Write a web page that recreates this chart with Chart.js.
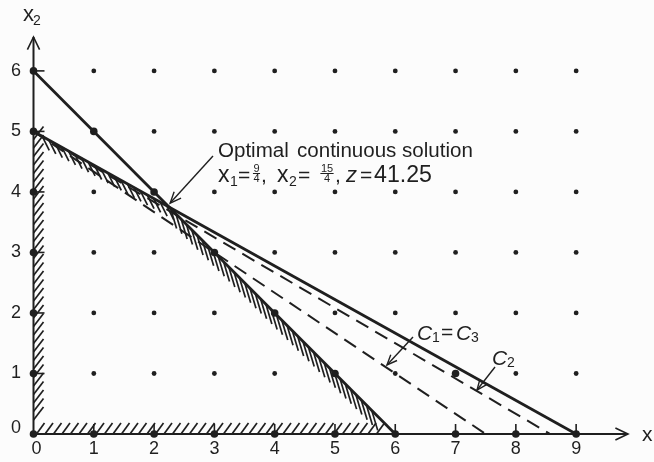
<!DOCTYPE html>
<html><head><meta charset="utf-8">
<script src="https://cdn.jsdelivr.net/npm/chart.js@4/dist/chart.umd.min.js"></script>
<style>html,body{margin:0;padding:0;background:#fcfcfc;overflow:hidden}#wrap{width:654px;height:462px}</style>
</head><body><div id="wrap"><canvas id="c" width="654" height="462"></canvas></div>
<script>
// ---- data ----
const xTicks = [0,1,2,3,4,5,6,7,8,9];
const yTicks = [0,1,2,3,4,5,6];
const constraintA = [{x:0,y:6},{x:6,y:0}];      // x1 + x2 = 6
const constraintB = [{x:0,y:5},{x:9,y:0}];      // 5x1 + 9x2 = 45
const cutC1C3 = [{x:0,y:5},{x:7.5,y:0}];        // 2x1 + 3x2 = 15
const cutC2 = [{x:0,y:5},{x:8.57,y:0}];
const feasibleVertices = [{x:0,y:0},{x:0,y:5},{x:2.25,y:3.75},{x:6,y:0}];
const optimum = {x:2.25,y:3.75};
const linePoints = [{x:1,y:5},{x:2,y:4},{x:3,y:3},{x:4,y:2},{x:5,y:1},{x:7,y:1}];
const axisMax = {x:9.86,y:6.56};

const INK = '#1f1f1f';
const FONT = '"Liberation Sans", Arial, Helvetica, sans-serif';

const lattice = [];
const bold = linePoints.slice();
xTicks.forEach(x => yTicks.forEach(y => {
  if (x === 0 || y === 0) bold.push({x, y}); else lattice.push({x, y});
}));

function arrowHead(ctx, tx, ty, fx, fy, len, ang){
  const a = Math.atan2(ty - fy, tx - fx);
  ctx.beginPath();
  ctx.moveTo(tx - len*Math.cos(a - ang), ty - len*Math.sin(a - ang));
  ctx.lineTo(tx, ty);
  ctx.lineTo(tx - len*Math.cos(a + ang), ty - len*Math.sin(a + ang));
  ctx.stroke();
}
function txt(ctx, t, x, base, size, italic){
  ctx.font = (italic ? 'italic ' : '') + size + 'px ' + FONT;
  ctx.fillText(t, x, base);
}
function frac(ctx, n, d, cx, base){
  ctx.font = '11px ' + FONT;
  ctx.textAlign = 'center';
  ctx.fillText(n, cx, base - 10);
  ctx.fillText(d, cx, base);
  const w = Math.max(ctx.measureText(n).width, ctx.measureText(d).width);
  ctx.beginPath(); ctx.lineWidth = 1; ctx.moveTo(cx - w/2 - 0.5, base - 8.5); ctx.lineTo(cx + w/2 + 0.5, base - 8.5); ctx.stroke();
  ctx.textAlign = 'left';
}

const decor = {
  id: 'decor',
  beforeDatasetsDraw(chart){
    const {ctx, scales:{x:sx, y:sy}} = chart;
    const X = v => sx.getPixelForValue(v), Y = v => sy.getPixelForValue(v);
    ctx.save();
    ctx.strokeStyle = INK; ctx.fillStyle = INK;
    // hatching inside the feasible region
    ctx.lineWidth = 1.7;
    const hatch = (a, b, dx, dy, step, s0, s1) => {
      const x1 = X(a.x), y1 = Y(a.y), x2 = X(b.x), y2 = Y(b.y);
      const L = Math.hypot(x2 - x1, y2 - y1);
      for (let s = s0; s <= L - s1; s += step){
        const t = s / L, px = x1 + (x2 - x1)*t, py = y1 + (y2 - y1)*t;
        ctx.beginPath(); ctx.moveTo(px, py); ctx.lineTo(px + dx, py + dy); ctx.stroke();
      }
    };
    const v = feasibleVertices;
    hatch(v[0], v[1], 10, -13, 8.5, 14, 8);
    hatch(v[0], v[3], 8, -11, 8.5, 3, 12);
    hatch(v[1], v[2], 7, 14, 7.5, 10, 0);
    hatch(v[2], v[3], 6, 20, 7.5, 2, 26);
    // axes
    ctx.lineWidth = 2;
    const x0 = X(0), y0 = Y(0), xt = X(axisMax.x), yt = Y(axisMax.y);
    ctx.beginPath(); ctx.moveTo(x0, y0); ctx.lineTo(x0, yt); ctx.stroke();
    ctx.beginPath(); ctx.moveTo(x0, y0); ctx.lineTo(xt, y0); ctx.stroke();
    ctx.lineWidth = 1.6;
    arrowHead(ctx, x0, yt, x0, y0, 14, 0.45);
    arrowHead(ctx, xt, y0, x0, y0, 14, 0.45);
    // tick marks
    ctx.lineWidth = 1.6;
    yTicks.forEach(t => { if (t > 0){ ctx.beginPath(); ctx.moveTo(x0, Y(t)); ctx.lineTo(x0 + 11, Y(t)); ctx.stroke(); }});
    xTicks.forEach(t => { if (t > 0){ ctx.beginPath(); ctx.moveTo(X(t), y0); ctx.lineTo(X(t), y0 - 10); ctx.stroke(); }});
    // tick labels
    ctx.font = '18px ' + FONT; ctx.textAlign = 'center'; ctx.textBaseline = 'middle';
    xTicks.forEach(t => ctx.fillText(String(t), X(t) + (t === 0 ? 3 : 0), y0 + 15));
    yTicks.forEach(t => ctx.fillText(String(t), 16, Y(t) - (t === 0 ? 6 : 0)));
    ctx.restore();
  },
  afterDatasetsDraw(chart){
    const {ctx, scales:{x:sx, y:sy}} = chart;
    const X = v => sx.getPixelForValue(v), Y = v => sy.getPixelForValue(v);
    ctx.save();
    ctx.strokeStyle = INK; ctx.fillStyle = INK; ctx.textBaseline = 'alphabetic'; ctx.textAlign = 'left';
    // axis titles
    txt(ctx, 'x', 23, 21, 22, false); txt(ctx, '2', 33, 25, 14, false);
    txt(ctx, 'x', 642, 441, 21, false); txt(ctx, '1', 653, 445, 14, false);
    // optimal solution annotation
    ctx.font = '20px ' + FONT;
    const w1 = ctx.measureText('continuous solution').width;
    const s1 = 20 * 176 / w1;
    txt(ctx, 'Optimal', 218, 157, s1, false);
    txt(ctx, 'continuous solution', 297, 157, s1, false);
    txt(ctx, 'x', 218, 182, 23, false); txt(ctx, '1', 230, 186, 14, false);
    txt(ctx, '=', 238, 182, 21, false);
    frac(ctx, '9', '4', 256.5, 182);
    txt(ctx, ',', 261, 182, 21, false);
    txt(ctx, 'x', 277, 182, 23, false); txt(ctx, '2', 289, 186, 14, false);
    txt(ctx, '=', 298, 182, 21, false);
    frac(ctx, '15', '4', 327, 182);
    txt(ctx, ',', 335, 182, 21, false);
    txt(ctx, 'z', 346, 182, 22, true);
    txt(ctx, '=', 360, 182, 21, false);
    ctx.font = '22px ' + FONT;
    const w2 = ctx.measureText('41.25').width;
    txt(ctx, '41.25', 374, 182, 22 * 58 / w2, false);
    ctx.lineWidth = 1.4;
    const tx = X(optimum.x) + 1, ty = Y(optimum.y) - 4;
    ctx.beginPath(); ctx.moveTo(213, 156); ctx.lineTo(tx, ty); ctx.stroke();
    arrowHead(ctx, tx, ty, 213, 156, 12, 0.4);
    // cut labels
    txt(ctx, 'C', 417, 340, 21, true); txt(ctx, '1', 432, 342, 14, false);
    txt(ctx, '=', 441, 339, 21, false);
    txt(ctx, 'C', 456, 340, 21, true); txt(ctx, '3', 471, 342, 14, false);
    ctx.beginPath(); ctx.moveTo(413, 337); ctx.lineTo(387, 365); ctx.stroke();
    arrowHead(ctx, 387, 365, 413, 337, 11, 0.4);
    txt(ctx, 'C', 492, 365, 21, true); txt(ctx, '2', 507, 367, 14, false);
    ctx.beginPath(); ctx.moveTo(495, 367); ctx.lineTo(477, 390); ctx.stroke();
    arrowHead(ctx, 477, 390, 495, 367, 11, 0.4);
    ctx.restore();
  }
};

const lineDs = (data, w, dash) => ({
  data, showLine: true, borderColor: INK, borderWidth: w, borderDash: dash || [],
  pointRadius: 0, fill: false, clip: false, tension: 0
});

new Chart(document.getElementById('c'), {
  type: 'scatter',
  data: { datasets: [
    lineDs(constraintA, 2.8),
    lineDs(constraintB, 2.8),
    lineDs(cutC1C3, 2, [14, 8]),
    lineDs(cutC2, 2, [14, 8]),
    { data: lattice, pointRadius: 2.4, pointBorderWidth: 0, pointBackgroundColor: INK, clip: false },
    { data: bold, pointRadius: 3.8, pointBorderWidth: 0, pointBackgroundColor: INK, clip: false }
  ]},
  options: {
    responsive: false, animation: false, devicePixelRatio: 1,
    layout: { padding: { left: 33.5, right: 654 - 628, top: 37, bottom: 28 } },
    scales: {
      x: { type: 'linear', min: 0, max: axisMax.x, display: false },
      y: { type: 'linear', min: 0, max: axisMax.y, display: false }
    },
    plugins: { legend: { display: false }, tooltip: { enabled: false } },
    events: []
  },
  plugins: [decor]
});
</script>
</body></html>
